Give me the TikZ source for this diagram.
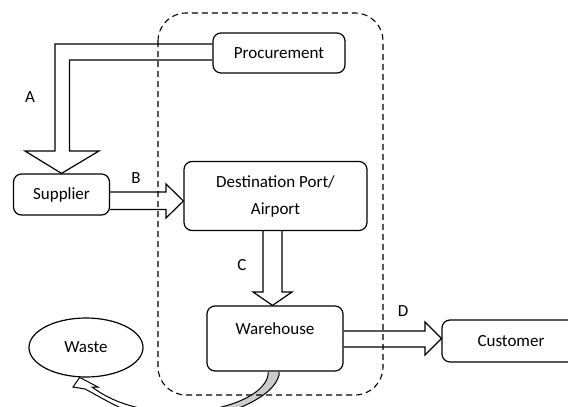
\documentclass[tikz,border=0pt]{standalone}
\usepackage{fontspec}
\setmainfont{Carlito}
\usetikzlibrary{shapes.geometric,backgrounds}
\begin{document}
\begin{tikzpicture}[x=1pt,y=-1pt,
  box/.style={draw, line width=1.2pt, rounded corners=8pt, fill=white, inner sep=0pt,
    font=\fontsize{17}{27}\selectfont, align=center},
  blockarrow/.style={draw, line width=1.2pt, fill=white, line join=miter},
  lbl/.style={font=\fontsize{17}{20}\selectfont, inner sep=0pt},
  region/.style={draw, line width=1.1pt, dash pattern=on 6pt off 4pt, rounded corners=28pt}]
\useasboundingbox (0,0) rectangle (568,407);

% nodes
\node[box, minimum width=132pt, minimum height=40pt] (proc) at (279,53) {Procurement};
\node[box, minimum width=96pt, minimum height=41pt] (sup) at (61.5,194.5) {Supplier};
\node[box, minimum width=183pt, minimum height=69pt] (dest) at (275.5,196) {Destination Port/\\Airport};
\node[box, minimum width=136pt, text height=28.5pt, text depth=36.5pt] (wh) at (275,338.5) {Warehouse};
\node[box, minimum width=138pt, minimum height=42pt] (cust) at (511,341) {Customer};
\node[draw, ellipse, line width=1.2pt, fill=white, minimum width=114pt, minimum height=59pt,
  inner sep=0pt, font=\fontsize{17}{20}\selectfont] (waste) at (86,347.5) {Waste};

% labels
\node[lbl] (la) at (30,97) {A};
\node[lbl] (lb) at (136,178) {B};
\node[lbl] (lc) at (242,265) {C};
\node[lbl] (ld) at (403,311) {D};

\begin{scope}[on background layer]
% A
\draw[blockarrow] (proc.west |- 0,44) -- (55,44) -- (55,151) -- (25,151) -- (sup.north)
  -- (99,151) -- (69.5,151) -- (69.5,60) -- (proc.west |- 0,60);
% B
\draw[blockarrow] (sup.east |- 0,192) -- (166,192) -- (166,184) -- (dest.west |- 0,201)
  -- (166,218) -- (166,209.5) -- (sup.east |- 0,209.5);
% C
\draw[blockarrow] (263,0 |- dest.south) -- (263,292) -- (253,292) -- (272.5,0 |- wh.north)
  -- (292,292) -- (282,292) -- (282,0 |- dest.south);
% D
\draw[blockarrow] (wh.east |- 0,331) -- (425,331) -- (425,322) -- (cust.west |- 0,338.5)
  -- (425,355) -- (425,347) -- (wh.east |- 0,347);
% waste curved arrow
\filldraw[fill=gray!40, line width=1pt] (279,372) -- (279,375) .. controls (274,398) and (225,418) .. (180,422)
  -- (180,412) .. controls (225,412) and (265,395) .. (268,375) -- (268,372);
\coordinate (wtip) at (waste.258);
\filldraw[fill=white, line width=1pt, line join=miter] (180,422) .. controls (140,423) and (110,402) .. (85,389)
  -- (73,387) -- (wtip) -- (98,387) -- (92,387)
  .. controls (112,402) and (140,412) .. (180,412) -- cycle;
\end{scope}

% dashed region
\draw[region] (158,13) rectangle (383,395);
\end{tikzpicture}
\end{document}
